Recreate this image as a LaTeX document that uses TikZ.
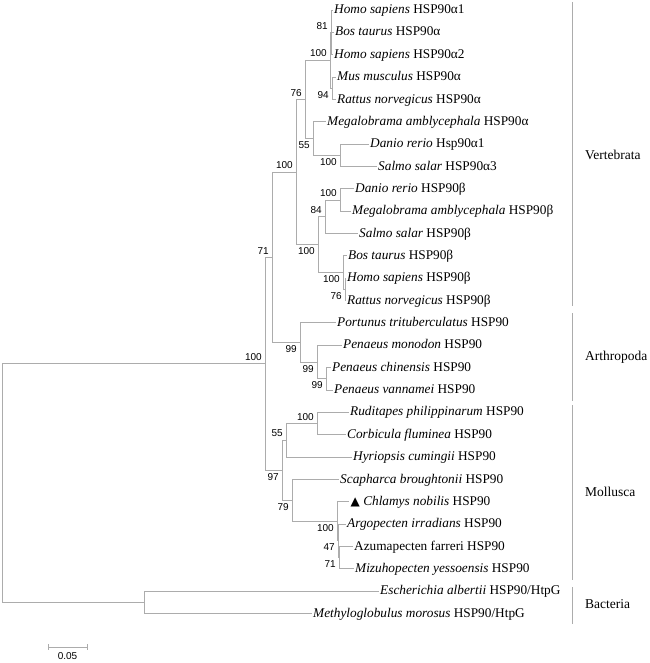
\documentclass[tikz,border=0pt]{standalone}
\usepackage{fontspec}
\setmainfont{Liberation Serif}
\newfontfamily\bsfont{Liberation Sans}
\newfontfamily\symfont{DejaVu Sans}
\definecolor{brc}{RGB}{172,172,172}
\begin{document}
\begin{tikzpicture}[x=1pt,y=-1pt,
  br/.style={draw=brc, line width=0.9pt},
  leaf/.style={anchor=west, inner xsep=1.5pt, inner ysep=0pt, font=\fontsize{13.3}{13.3}\selectfont, text height=10.3pt, text depth=3pt},
  bs/.style={font=\bsfont\fontsize{10}{10}\selectfont, inner sep=0pt},
  up/.style={bs, anchor=south east},
  dn/.style={bs, anchor=north east},
  clade/.style={anchor=west, inner sep=0pt, font=\fontsize{13.5}{13.5}\selectfont}]
\useasboundingbox (0,0) rectangle (649,663);

% leaves
\node[leaf] (l1) at (332.5,10) {\textit{Homo sapiens} HSP90α1};
\node[leaf] (l2) at (333.5,32.35) {\textit{Bos taurus} HSP90α};
\node[leaf] (l3) at (332.5,54.7) {\textit{Homo sapiens} HSP90α2};
\node[leaf] (l4) at (335.5,77.05) {\textit{Mus musculus} HSP90α};
\node[leaf] (l5) at (335.5,99.4) {\textit{Rattus norvegicus} HSP90α};
\node[leaf] (l6) at (325.5,121.75) {\textit{Megalobrama amblycephala} HSP90α};
\node[leaf] (l7) at (368.5,144.1) {\textit{Danio rerio} Hsp90α1};
\node[leaf] (l8) at (376.5,166.45) {\textit{Salmo salar} HSP90α3};
\node[leaf] (l9) at (353.5,188.8) {\textit{Danio rerio} HSP90β};
\node[leaf] (l10) at (350.5,211.15) {\textit{Megalobrama amblycephala} HSP90β};
\node[leaf] (l11) at (357.5,233.5) {\textit{Salmo salar} HSP90β};
\node[leaf] (l12) at (346.5,255.85) {\textit{Bos taurus} HSP90β};
\node[leaf] (l13) at (345.5,278.2) {\textit{Homo sapiens} HSP90β};
\node[leaf] (l14) at (345.5,300.55) {\textit{Rattus norvegicus} HSP90β};
\node[leaf] (l15) at (335.5,322.9) {\textit{Portunus trituberculatus} HSP90};
\node[leaf] (l16) at (341.5,345.25) {\textit{Penaeus monodon} HSP90};
\node[leaf] (l17) at (330.5,367.6) {\textit{Penaeus chinensis} HSP90};
\node[leaf] (l18) at (332.5,389.95) {\textit{Penaeus vannamei} HSP90};
\node[leaf] (l19) at (348.5,412.3) {\textit{Ruditapes philippinarum} HSP90};
\node[leaf] (l20) at (345.5,434.65) {\textit{Corbicula fluminea} HSP90};
\node[leaf] (l21) at (351.5,457) {\textit{Hyriopsis cumingii} HSP90};
\node[leaf] (l22) at (338.5,479.35) {\textit{Scapharca broughtonii} HSP90};
\node[leaf] (l23) at (349,501.7) {{\symfont\fontsize{12}{12}\selectfont ▲} \textit{Chlamys nobilis} HSP90};
\node[leaf] (l24) at (345.5,524.05) {\textit{Argopecten irradians} HSP90};
\node[leaf] (l25) at (352.5,546.4) {Azumapecten farreri HSP90};
\node[leaf] (l26) at (353.5,568.75) {\textit{Mizuhopecten yessoensis} HSP90};
\node[leaf] (l27) at (378.5,591.1) {\textit{Escherichia albertii} HSP90/HtpG};
\node[leaf] (l28) at (311.5,613.45) {\textit{Methyloglobulus morosus} HSP90/HtpG};

% internal nodes
\coordinate (n81) at (331,32.35);
\coordinate (n94) at (332,88.225);
\coordinate (nMa) at (330,60.29);
\coordinate (nDS) at (340,155.275);
\coordinate (n55) at (313,138.51);
\coordinate (n76) at (305,99.4);
\coordinate (nDM) at (340,199.975);
\coordinate (n84) at (325,216.74);
\coordinate (n76b) at (345,289.375);
\coordinate (nMb) at (343,272.61);
\coordinate (nB) at (318,244.675);
\coordinate (nV) at (296,172.04);
\coordinate (nA3) at (326,378.775);
\coordinate (nA2) at (317,362.01);
\coordinate (nA) at (300,342.46);
\coordinate (n71) at (272,257.25);
\coordinate (nRC) at (317,423.475);
\coordinate (nM55) at (286,440.24);
\coordinate (nZ71) at (339,557.575);
\coordinate (nZ47) at (338,540.81);
\coordinate (nP) at (337,521.26);
\coordinate (n79) at (292,500.3);
\coordinate (n97) at (282,470.27);
\coordinate (nIn) at (265,363.76);
\coordinate (nBac) at (144,602.275);
\coordinate (root) at (2,483.02);

% branches
\draw[br] (n81) |- (l1.west);
\draw[br] (n81) |- (l2.west);
\draw[br] (n81) |- (l3.west);
\draw[br] (n94) |- (l4.west);
\draw[br] (n94) |- (l5.west);
\draw[br] (nMa) |- (n81);
\draw[br] (nMa) |- (n94);
\draw[br] (nDS) |- (l7.west);
\draw[br] (nDS) |- (l8.west);
\draw[br] (n55) |- (l6.west);
\draw[br] (n55) |- (nDS);
\draw[br] (n76) |- (nMa);
\draw[br] (n76) |- (n55);
\draw[br] (nDM) |- (l9.west);
\draw[br] (nDM) |- (l10.west);
\draw[br] (n84) |- (nDM);
\draw[br] (n84) |- (l11.west);
\draw[br] (n76b) |- (l13.west);
\draw[br] (n76b) |- (l14.west);
\draw[br] (nMb) |- (l12.west);
\draw[br] (nMb) |- (n76b);
\draw[br] (nB) |- (n84);
\draw[br] (nB) |- (nMb);
\draw[br] (nV) |- (n76);
\draw[br] (nV) |- (nB);
\draw[br] (nA3) |- (l17.west);
\draw[br] (nA3) |- (l18.west);
\draw[br] (nA2) |- (l16.west);
\draw[br] (nA2) |- (nA3);
\draw[br] (nA) |- (l15.west);
\draw[br] (nA) |- (nA2);
\draw[br] (n71) |- (nV);
\draw[br] (n71) |- (nA);
\draw[br] (nRC) |- (l19.west);
\draw[br] (nRC) |- (l20.west);
\draw[br] (nM55) |- (nRC);
\draw[br] (nM55) |- (l21.west);
\draw[br] (nZ71) |- (l25.west);
\draw[br] (nZ71) |- (l26.west);
\draw[br] (nZ47) |- (l24.west);
\draw[br] (nZ47) |- (nZ71);
\draw[br] (nP) |- (l23.west);
\draw[br] (nP) |- (nZ47);
\draw[br] (n79) |- (l22.west);
\draw[br] (n79) |- (nP);
\draw[br] (n97) |- (nM55);
\draw[br] (n97) |- (n79);
\draw[br] (nIn) |- (n71);
\draw[br] (nIn) |- (n97);
\draw[br] (nBac) |- (l27.west);
\draw[br] (nBac) |- (l28.west);
\draw[br] (root) |- (nIn);
\draw[br] (root) |- (nBac);

% bootstrap values
\node[up] (b81) at ([xshift=-3pt,yshift=3pt]n81) {81};
\node[dn] (b94) at ([xshift=-3pt,yshift=-3pt]n94) {94};
\node[up] (bMa) at ([xshift=-3pt,yshift=3pt]nMa) {100};
\node[up] (b76) at ([xshift=-3pt,yshift=3pt]n76) {76};
\node[dn] (b55) at ([xshift=-3pt,yshift=-3pt]n55) {55};
\node[dn] (bDS) at ([xshift=-3pt,yshift=-3pt]nDS) {100};
\node[up] (bV) at ([xshift=-3pt,yshift=3pt]nV) {100};
\node[dn] (bB) at ([xshift=-3pt,yshift=-3pt]nB) {100};
\node[up] (b84) at ([xshift=-3pt,yshift=3pt]n84) {84};
\node[up] (bDM) at ([xshift=-3pt,yshift=3pt]nDM) {100};
\node[dn] (bMb) at ([xshift=-3pt,yshift=-3pt]nMb) {100};
\node[dn] (b76b) at ([xshift=-3pt,yshift=-3pt]n76b) {76};
\node[up] (b71) at ([xshift=-3pt,yshift=3pt]n71) {71};
\node[dn] (bA) at ([xshift=-3pt,yshift=-3pt]nA) {99};
\node[dn] (bA2) at ([xshift=-3pt,yshift=-3pt]nA2) {99};
\node[dn] (bA3) at ([xshift=-3pt,yshift=-3pt]nA3) {99};
\node[up] (bIn) at ([xshift=-3pt,yshift=3pt]nIn) {100};
\node[dn] (b97) at ([xshift=-3pt,yshift=-3pt]n97) {97};
\node[up] (bM55) at ([xshift=-3pt,yshift=3pt]nM55) {55};
\node[up] (bRC) at ([xshift=-3pt,yshift=3pt]nRC) {100};
\node[dn] (b79) at ([xshift=-3pt,yshift=-3pt]n79) {79};
\node[dn] (bP) at ([xshift=-3pt,yshift=-3pt]nP) {100};
\node[dn] (bZ47) at ([xshift=-3pt,yshift=-3pt]nZ47) {47};
\node[dn] (bZ71) at ([xshift=-3pt,yshift=-3pt]nZ71) {71};

% clade bars
\coordinate (vt) at (572,2);   \coordinate (vb) at (572,306);
\coordinate (at) at (572,313); \coordinate (ab) at (572,401);
\coordinate (mt) at (572,405); \coordinate (mb) at (572,580);
\coordinate (bt) at (572,587); \coordinate (bb) at (572,624);
\draw[br] (vt) -- (vb);
\draw[br] (at) -- (ab);
\draw[br] (mt) -- (mb);
\draw[br] (bt) -- (bb);
\node[clade] (cV) at (585,155) {Vertebrata};
\node[clade] (cA) at (585,357) {Arthropoda};
\node[clade] (cM) at (585,492) {Mollusca};
\node[clade] (cB) at (585,604) {Bacteria};

% scale bar
\coordinate (s1) at (48,647);
\coordinate (s2) at (87,647);
\draw[br] (s1) -- (s2);
\draw[br] ([yshift=3pt]s1) -- ([yshift=-3pt]s1);
\draw[br] ([yshift=3pt]s2) -- ([yshift=-3pt]s2);
\node[bs] (sl) at (67.5,656.5) {0.05};
\end{tikzpicture}
\end{document}
